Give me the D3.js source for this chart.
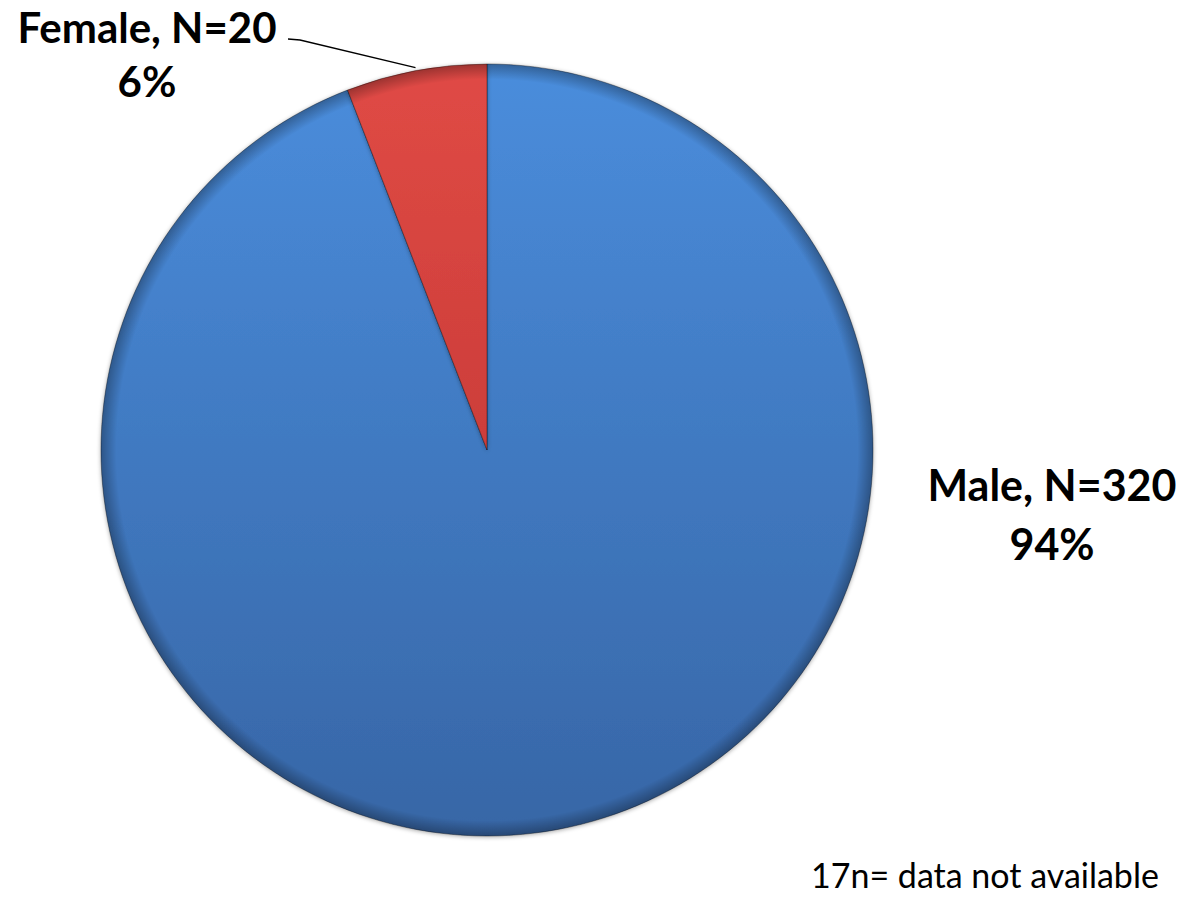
<!DOCTYPE html>
<html>
<head>
<meta charset="UTF-8">
<title>Gender pie</title>
<script src="https://d3js.org/d3.v7.min.js"></script>
<style>
  body { margin: 0; background: #fff; }
  svg { display: block; }
  text { font-family: Lato, "Open Sans", sans-serif; fill: #000; }
</style>
</head>
<body>
<svg id="chart" width="1191" height="898"></svg>
<script>
// data
var categories = ["Male", "Female"];
var counts = [320, 20];
var footnote = "17n= data not available";

var sliceColors = {
  Male:   { top: "#4a8ddc", bottom: "#3766a6" },
  Female: { top: "#e04a45", bottom: "#b8312e" }
};

var svg = d3.select("#chart"),
    cx = 487, cy = 450, radius = 386;

var total = d3.sum(counts);
var rows = categories.map(function(c, i) { return { name: c, value: counts[i] }; });

var defs = svg.append("defs");

categories.forEach(function(c) {
  var g = defs.append("linearGradient")
    .attr("id", "grad-" + c)
    .attr("gradientUnits", "userSpaceOnUse")
    .attr("x1", 0).attr("y1", -radius).attr("x2", 0).attr("y2", radius);
  g.append("stop").attr("offset", "0%").attr("stop-color", sliceColors[c].top);
  g.append("stop").attr("offset", "100%").attr("stop-color", sliceColors[c].bottom);
});

// soft bevel: dark rim fading inwards
var rim = defs.append("radialGradient")
  .attr("id", "rim")
  .attr("gradientUnits", "userSpaceOnUse")
  .attr("cx", 0).attr("cy", 0).attr("r", radius);
rim.append("stop").attr("offset", "0%").attr("stop-color", "#000").attr("stop-opacity", 0);
rim.append("stop").attr("offset", "96%").attr("stop-color", "#000").attr("stop-opacity", 0);
rim.append("stop").attr("offset", "100%").attr("stop-color", "#000").attr("stop-opacity", 0.3);

var shadow = defs.append("filter").attr("id", "shadow")
  .attr("x", "-10%").attr("y", "-10%").attr("width", "120%").attr("height", "120%");
shadow.append("feDropShadow")
  .attr("dx", 0).attr("dy", 1).attr("stdDeviation", 2)
  .attr("flood-color", "#000").attr("flood-opacity", 0.35);

var pie = d3.pie().sort(null).value(function(d) { return d.value; });
var arc = d3.arc().innerRadius(0).outerRadius(radius);

var g = svg.append("g").attr("transform", "translate(" + cx + "," + cy + ")");

var arcs = pie(rows);

g.selectAll("path.slice")
  .data(arcs)
  .enter().append("path")
  .attr("class", "slice")
  .attr("d", arc)
  .attr("fill", function(d) { return "url(#grad-" + d.data.name + ")"; })
  .attr("stroke", "rgba(0,0,0,0.35)")
  .attr("stroke-width", 1)
  .attr("filter", "url(#shadow)");

g.selectAll("path.rim")
  .data(arcs)
  .enter().append("path")
  .attr("class", "rim")
  .attr("d", arc)
  .attr("fill", "url(#rim)")
  .attr("pointer-events", "none");

// labels
var fmt = function(v) { return Math.round(v / total * 100) + "%"; };

var male = arcs[0], female = arcs[1];

var maleLabel = svg.append("text")
  .attr("x", 1052).attr("y", 501)
  .attr("text-anchor", "middle")
  .attr("font-weight", "bold").attr("font-size", 43);
maleLabel.append("tspan").attr("x", 1052).text(male.data.name + ", N=" + male.data.value);
maleLabel.append("tspan").attr("x", 1052).attr("dy", 59).text(fmt(male.data.value));

var femaleLabel = svg.append("text")
  .attr("x", 147).attr("y", 43)
  .attr("text-anchor", "middle")
  .attr("font-weight", "bold").attr("font-size", 42);
femaleLabel.append("tspan").attr("x", 147).text(female.data.name + ", N=" + female.data.value);
femaleLabel.append("tspan").attr("x", 147).attr("dy", 54).text(fmt(female.data.value));

// leader line to the female slice
var mid = (female.startAngle + female.endAngle) / 2;
var edge = [cx + Math.sin(mid) * radius * 1.008, cy - Math.cos(mid) * radius * 1.008];
svg.append("path")
  .attr("d", d3.line()([[288, 39], [300, 40], edge]))
  .attr("fill", "none")
  .attr("stroke", "#000")
  .attr("stroke-width", 1.3);

svg.append("text")
  .attr("x", 811).attr("y", 888)
  .attr("font-size", 34)
  .text(footnote);
</script>
</body>
</html>
